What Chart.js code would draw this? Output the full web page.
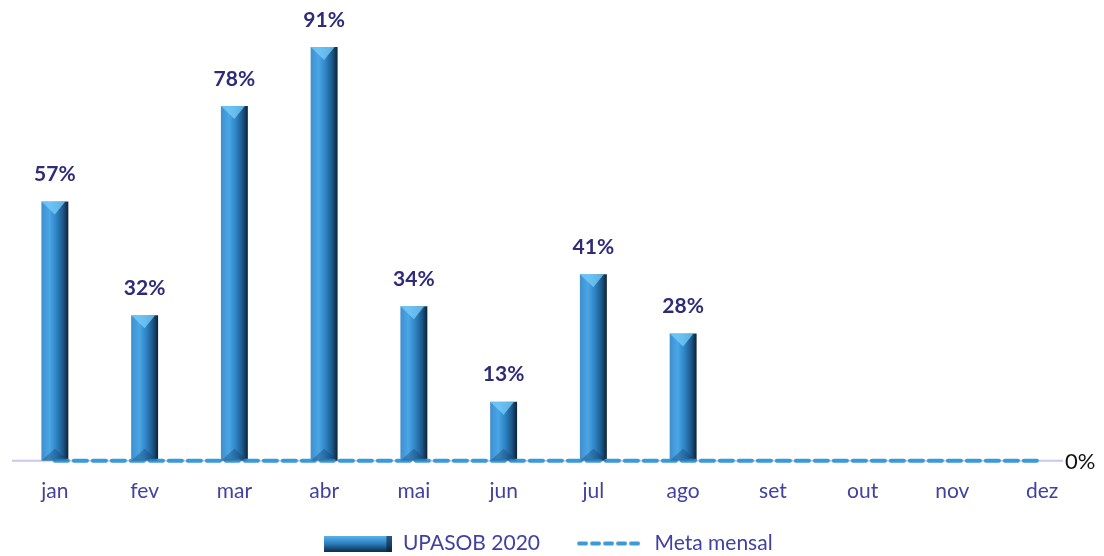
<!DOCTYPE html>
<html>
<head>
<meta charset="utf-8">
<script src="https://cdn.jsdelivr.net/npm/chart.js@4/dist/chart.umd.min.js"></script>
<style>
  html, body { margin: 0; padding: 0; background: #fff; }
  #wrap { width: 1104px; height: 556px; }
</style>
</head>
<body>
<div id="wrap"><canvas id="chart" width="1104" height="556"></canvas></div>
<script>
const months = ['jan', 'fev', 'mar', 'abr', 'mai', 'jun', 'jul', 'ago', 'set', 'out', 'nov', 'dez'];
const upasob = [57, 32, 78, 91, 34, 13, 41, 28, null, null, null, null];
const meta = [0, 0, 0, 0, 0, 0, 0, 0, 0, 0, 0, 0];
const rightTick = '0%';

const FONT = 'Lato, "Open Sans", sans-serif';
const LABEL_COLOR = '#4141a3';
const AXIS_SQUEEZE = 17;

function barGradient(ctx, left, right) {
  const g = ctx.createLinearGradient(left, 0, right, 0);
  g.addColorStop(0, '#3e8fcf');
  g.addColorStop(0.3, '#4aa6e5');
  g.addColorStop(0.55, '#2f84c6');
  g.addColorStop(0.8, '#1c5889');
  g.addColorStop(1, '#0c2236');
  return g;
}

// legend icons
function barIcon() {
  const c = document.createElement('canvas');
  c.width = 68; c.height = 16;
  const x = c.getContext('2d');
  const g = x.createLinearGradient(0, 0, 0, 16);
  g.addColorStop(0, '#5fb6ee');
  g.addColorStop(0.5, '#2c7fc0');
  g.addColorStop(1, '#0f2f4c');
  x.fillStyle = g;
  x.fillRect(0, 0, 68, 16);
  x.fillStyle = 'rgba(10,30,50,0.6)';
  x.beginPath(); x.moveTo(62, 0); x.lineTo(68, 0); x.lineTo(68, 16); x.lineTo(62, 16); x.fill();
  return c;
}
function dashIcon() {
  const c = document.createElement('canvas');
  c.width = 68; c.height = 6;
  const x = c.getContext('2d');
  x.strokeStyle = '#3a99d8';
  x.lineWidth = 4;
  x.lineCap = 'round';
  x.setLineDash([7, 6]);
  x.beginPath(); x.moveTo(3, 3); x.lineTo(66, 3); x.stroke();
  return c;
}

const bevelAndLabels = {
  id: 'bevelAndLabels',
  afterLayout(chart) {
    // x axis was fitted short; give its labels room to draw
    chart.scales.x.bottom += AXIS_SQUEEZE;
  },
  beforeDatasetsDraw(chart) {
    const { ctx, chartArea, scales } = chart;
    const y0 = scales.y.getPixelForValue(0);
    ctx.save();
    ctx.strokeStyle = '#c9c7ec';
    ctx.lineWidth = 2;
    ctx.beginPath();
    ctx.moveTo(chartArea.left + 2, y0);
    ctx.lineTo(chartArea.right - 24, y0);
    ctx.stroke();
    ctx.restore();
  },
  afterDatasetsDraw(chart) {
    const { ctx, scales } = chart;
    const meta0 = chart.getDatasetMeta(0);
    ctx.save();
    meta0.data.forEach((bar, i) => {
      const v = upasob[i];
      if (v == null) return;
      const l = bar.x - bar.width / 2, r = bar.x + bar.width / 2;
      // top bevel
      ctx.fillStyle = 'rgba(120,205,250,0.75)';
      ctx.beginPath();
      ctx.moveTo(l, bar.y);
      ctx.lineTo(r - 3, bar.y);
      ctx.lineTo(bar.x, bar.y + 13);
      ctx.closePath();
      ctx.fill();
      // bottom bevel
      ctx.fillStyle = 'rgba(20,60,100,0.35)';
      ctx.beginPath();
      ctx.moveTo(l, bar.base);
      ctx.lineTo(bar.x, bar.base - 12);
      ctx.lineTo(r, bar.base);
      ctx.closePath();
      ctx.fill();
      // value label
      ctx.fillStyle = '#2f2b7b';
      ctx.font = 'bold 21px ' + FONT;
      ctx.textAlign = 'center';
      ctx.textBaseline = 'middle';
      ctx.fillText(v + '%', bar.x, bar.y - 27);
    });
    // secondary axis tick
    ctx.fillStyle = '#111';
    ctx.font = '22px ' + FONT;
    ctx.textAlign = 'left';
    ctx.textBaseline = 'middle';
    ctx.fillText(rightTick, chart.chartArea.right - 22, scales.y.getPixelForValue(0) + 1);
    ctx.restore();
  }
};

new Chart(document.getElementById('chart'), {
  data: {
    labels: months,
    datasets: [
      {
        type: 'bar',
        label: 'UPASOB 2020',
        data: upasob,
        backgroundColor: (c) => {
          const chart = c.chart;
          if (!chart.chartArea || c.dataIndex == null) return '#2d80c2';
          const x = chart.scales.x.getPixelForValue(c.dataIndex);
          const w = (chart.chartArea.width / months.length) * 0.3;
          return barGradient(chart.ctx, x - w / 2, x + w / 2);
        },
        borderWidth: 0,
        categoryPercentage: 1,
        barPercentage: 0.3,
        order: 2
      },
      {
        type: 'line',
        label: 'Meta mensal',
        data: meta,
        borderColor: '#3a99d8',
        borderWidth: 4,
        borderDash: [13, 6],
        borderCapStyle: 'round',
        pointRadius: 0,
        fill: false,
        clip: false,
        order: 1
      }
    ]
  },
  options: {
    responsive: false,
    animation: false,
    layout: { padding: { left: 10, right: 17, top: 6, bottom: 0 } },
    plugins: {
      tooltip: { enabled: false },
      legend: {
        position: 'bottom',
        maxHeight: 59,
        labels: {
          usePointStyle: true,
          pointStyleWidth: 68,
          padding: 36,
          color: LABEL_COLOR,
          font: { family: FONT, size: 21 },
          generateLabels: (chart) => chart.data.datasets.map((ds, i) => ({
            text: ds.label,
            fontColor: LABEL_COLOR,
            pointStyle: i === 0 ? barIcon() : dashIcon(),
            datasetIndex: i,
            hidden: false,
            lineWidth: 0
          }))
        }
      }
    },
    scales: {
      x: {
        grid: { display: false },
        border: { display: false },
        ticks: { color: LABEL_COLOR, font: { family: FONT, size: 21 }, padding: 10 },
        afterFit: (scale) => { scale.height -= AXIS_SQUEEZE; }
      },
      y: {
        display: false,
        min: 0,
        max: 100
      }
    }
  },
  plugins: [bevelAndLabels]
});
</script>
</body>
</html>
